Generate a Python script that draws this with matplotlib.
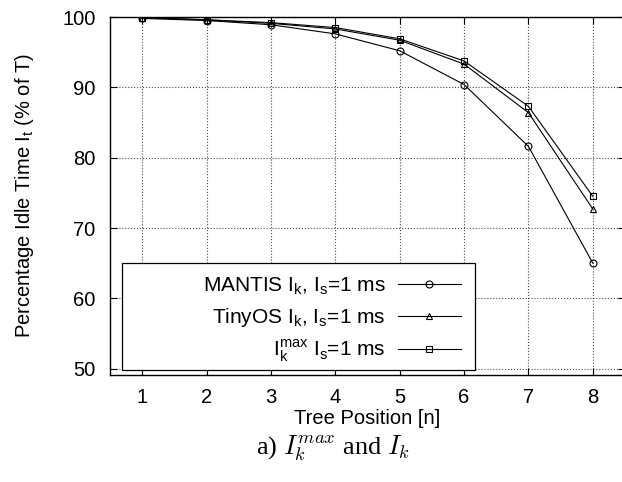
import matplotlib
matplotlib.use('Agg')
import matplotlib.pyplot as plt
from matplotlib.patches import Rectangle

plt.rcParams['font.family'] = ['Liberation Sans', 'DejaVu Sans']
plt.rcParams['mathtext.fontset'] = 'custom'
plt.rcParams['mathtext.rm'] = 'Liberation Sans'

# datos
posiciones = [1, 2, 3, 4, 5, 6, 7, 8]
mantis = [99.8, 99.5, 98.9, 97.6, 95.2, 90.4, 81.6, 65.0]
tinyos = [99.9, 99.6, 99.1, 98.3, 96.7, 93.3, 86.4, 72.7]
ik_max = [99.9, 99.6, 99.2, 98.5, 96.9, 93.75, 87.3, 74.5]
etiquetas = [r'MANTIS I$_\mathregular{k}$, I$_\mathregular{s}$=1 ms',
             r'TinyOS I$_\mathregular{k}$, I$_\mathregular{s}$=1 ms',
             r'I$_\mathregular{k}^\mathregular{max}$ I$_\mathregular{s}$=1 ms']
yticks = [50, 60, 70, 80, 90, 100]

fig = plt.figure(figsize=(6.22, 4.82), dpi=100)
ax = fig.add_axes([110 / 622, 107 / 482, 515 / 622, 358 / 482])

ax.plot(posiciones, mantis, color='black', lw=0.8, marker='o', ms=5,
        mfc='none', mew=0.8, label=etiquetas[0])
ax.plot(posiciones, tinyos, color='black', lw=0.8, marker='^', ms=5,
        mfc='none', mew=0.8, label=etiquetas[1])
ax.plot(posiciones, ik_max, color='black', lw=0.8, marker='s', ms=5,
        mfc='none', mew=0.8, label=etiquetas[2])

ax.set_xlim(0.5, 8.5)
ax.set_ylim(49.1, 100)
ax.set_xticks(posiciones)
ax.set_yticks(yticks)
ax.tick_params(direction='in', length=5, labelsize=14.5, top=True, right=True, pad=10.5)
ax.tick_params(axis='x', pad=9.5)
ax.grid(True, linestyle=':', color='black', lw=0.8, alpha=0.7)
for s in ax.spines.values():
    s.set_linewidth(1.0)

ax.set_xlabel('Tree Position [n]', fontsize=14.5, labelpad=1)
ax.set_ylabel(r'Percentage Idle Time I$_\mathregular{t}$ (% of T)', fontsize=14.5, labelpad=19)

# marco de la leyenda (estilo gnuplot, texto alineado a la derecha)
marco = Rectangle((0.0233, 0.014), 0.6857, 0.299, transform=ax.transAxes,
                  facecolor='white', edgecolor='black', lw=0.9, zorder=4)
ax.add_patch(marco)
leg = ax.legend(loc='lower right', bbox_to_anchor=(0.709, -0.011), frameon=False,
                markerfirst=False, numpoints=1, handlelength=3.0, handletextpad=0.6,
                labelspacing=0.42, fontsize=15, borderaxespad=0.3)
leg.set_zorder(5)

fig.text(333 / 622, 1 - 454 / 482, r'a) $I_k^{max}$ and $I_k$', ha='center', va='baseline',
         fontsize=19, family='Liberation Serif', math_fontfamily='cm')

fig.savefig('out.png', dpi=100)
